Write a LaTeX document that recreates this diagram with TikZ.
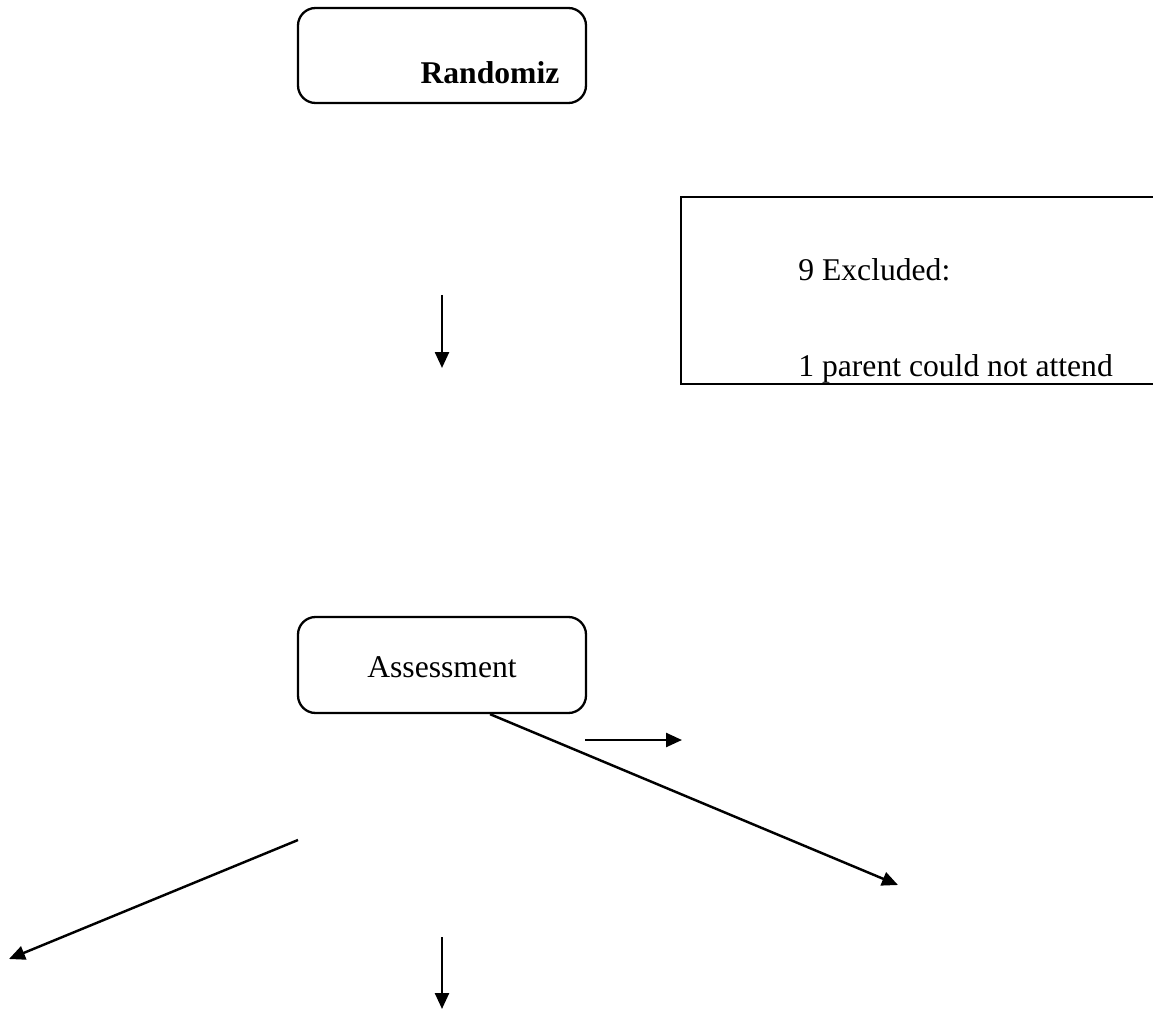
\documentclass[tikz,border=0pt]{standalone}
\usepackage{fontspec}
\setmainfont{Liberation Serif}
\usepackage{tikz}
\usetikzlibrary{arrows.meta, positioning, calc}
\tikzset{
  roundbox/.style={rectangle, rounded corners=10pt, draw=black, line width=1.3pt,
                   minimum width=5.76cm, minimum height=1.9cm, inner sep=0pt},
  squarebox/.style={rectangle, draw=black, line width=1.3pt,
                    minimum width=9.58cm, minimum height=3.74cm, inner sep=0pt},
  txt/.style={font=\fontsize{18}{22}\selectfont, inner sep=0pt},
  arrow/.style={-{Triangle[length=0.32cm, width=0.28cm]}, line width=1.4pt, draw=black},
}
\begin{document}
\begin{tikzpicture}
  \clip (0,0) rectangle (23.06,-20.24);

  %% Top: randomisation box
  \node[roundbox] (rand) at (8.84,-1.11) {};
  \node[txt, font=\fontsize{18}{22}\selectfont\bfseries] (randtxt)
        at ($(rand.center)+(0.96,-0.35)$) {Randomiz};

  %% Exclusion box (runs off the right edge)
  \node[squarebox] (excl) at (18.41,-5.81) {};
  \node[txt, anchor=west] (excltxt) at (15.96,-5.39) {9 Excluded:};
  \node[txt, anchor=west] (parenttxt) at (15.96,-7.38) {1 parent could not attend};

  %% Arrow under the randomisation box
  \coordinate (a1top) at (8.84,-5.90);
  \coordinate (a1bot) at (8.84,-7.36);
  \draw[arrow] (a1top) -- (a1bot);

  %% Assessment box
  \node[roundbox, minimum height=1.92cm] (assess) at (8.84,-13.30) {};
  \node[txt] (assesstxt) at ($(assess.center)+(0,-0.04)$) {Assessment};

  %% Loose arrows below
  \coordinate (diagstart) at ($(assess.south)+(0.96,0)$);
  \coordinate (diagend)   at (17.96,-17.70);
  \draw[arrow] (diagstart) -- (diagend);

  \coordinate (shortl) at (11.70,-14.80);
  \coordinate (shortr) at (13.64,-14.80);
  \draw[arrow] (shortl) -- (shortr);

  \coordinate (leftstart) at (5.96,-16.80);
  \coordinate (leftend)   at (0.18,-19.18);
  \draw[arrow] (leftstart) -- (leftend);

  \coordinate (a2top) at (8.84,-18.74);
  \coordinate (a2bot) at (8.84,-20.18);
  \draw[arrow] (a2top) -- (a2bot);

\end{tikzpicture}
\end{document}
